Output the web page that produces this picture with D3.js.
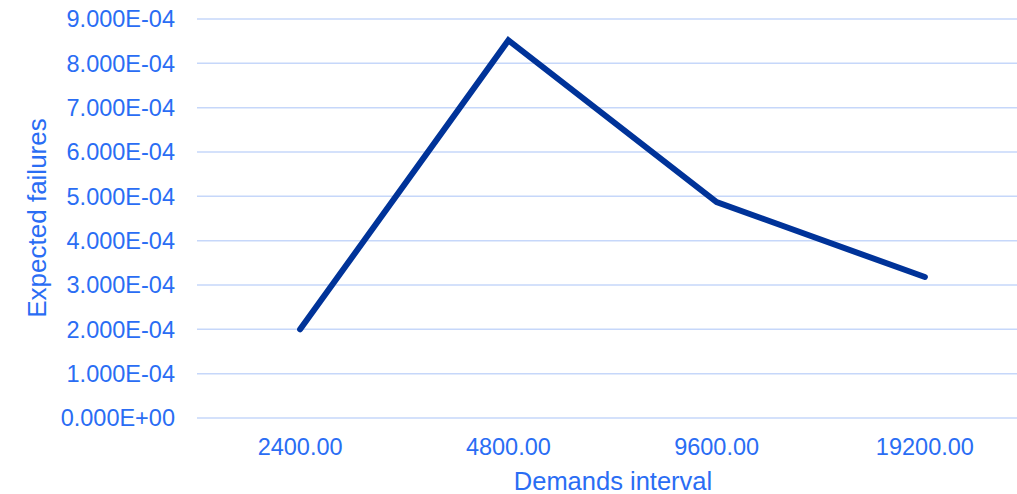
<!DOCTYPE html>
<html><head><meta charset="utf-8">
<script src="https://cdn.jsdelivr.net/npm/d3@7"></script>
<style>body{margin:0;background:#fff;} svg{display:block;font-family:"Liberation Sans",Arial,sans-serif;}</style>
</head><body><svg id="c" width="1017" height="494"></svg>
<script>
const categories = ["2400.00","4800.00","9600.00","19200.00"];
const values = [2.0e-4, 8.52e-4, 4.87e-4, 3.18e-4];
const yTicks = [0,1e-4,2e-4,3e-4,4e-4,5e-4,6e-4,7e-4,8e-4,9e-4];
const xTitle = "Demands interval";
const yTitle = "Expected failures";

const svg = d3.select("#c");
const textColor = "#2a6df4";
const x = d3.scaleBand().domain(categories).range([196, 1029]);
const y = d3.scaleLinear().domain([0, 9e-4]).range([418, 19]);

// gridlines
svg.append("g").selectAll("line").data(yTicks).join("line")
  .attr("x1", 197).attr("x2", 1029)
  .attr("y1", d => y(d)).attr("y2", d => y(d))
  .attr("stroke", "#c6d7fa").attr("stroke-width", 1.5);

// y labels
const fmt = d => { const s = d.toExponential(3).toUpperCase(); return s.replace(/E([+-])(\d)$/, "E$10$2"); };
svg.append("g").selectAll("text").data(yTicks).join("text")
  .attr("x", 175).attr("y", d => y(d)).attr("dy", "0.35em")
  .attr("text-anchor", "end").attr("fill", textColor).attr("font-size", 23.5)
  .text(fmt);

// x labels
svg.append("g").selectAll("text").data(categories).join("text")
  .attr("x", d => x(d) + x.bandwidth()/2).attr("y", 447).attr("dy", "0.35em")
  .attr("text-anchor", "middle").attr("fill", textColor).attr("font-size", 23.5)
  .text(d => d);

// line
const line = d3.line().x((d,i) => x(categories[i]) + x.bandwidth()/2).y(d => y(d));
svg.append("path").datum(values).attr("d", line)
  .attr("fill", "none").attr("stroke", "#003399").attr("stroke-width", 6)
  .attr("stroke-linecap", "round").attr("stroke-linejoin", "miter");

// titles
svg.append("text").attr("x", 613).attr("y", 481.5).attr("dy", "0.35em")
  .attr("text-anchor", "middle").attr("fill", textColor).attr("font-size", 25.5).text(xTitle);
svg.append("text").attr("transform", "translate(37,218) rotate(-90)").attr("dy", "0.35em")
  .attr("text-anchor", "middle").attr("fill", textColor).attr("font-size", 26).text(yTitle);
</script></body></html>
